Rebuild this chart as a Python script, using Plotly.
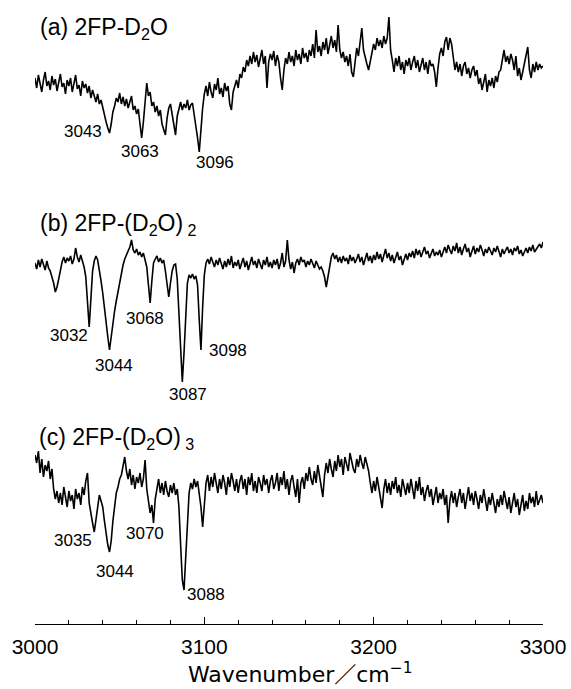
import plotly.graph_objects as go

# Wavenumber grid (cm^-1)
wavenumber = list(range(3000, 3301))

# (a) 2FP-D2O  (arbitrary intensity units)
spec_a = [
    22, 12, 25, 16, 8, 20, 28, 14, 19, 10,
    24, 15, 21, 9, 18, 26, 13, 17, 6, 20,
    14, 22, 8, 16, 25, 11, 15, 4, 19, 12,
    16, 7, 14, 2, 10, 4, -2, 6, -4, 0,
    -8, -16, -22, -28, -33, -24, -12, -6, 2, -2,
    7, -4, 3, -6, 1, -8, -2, 4, -10, -6,
    -14, -9, -24, -38, -22, -2, 17, 4, 8, -6,
    -2, -12, -6, -16, -10, -24, -30, -35, -18, -8,
    -4, -14, -26, -35, -16, -9, -2, -10, -4, -8,
    0, -10, -5, -3, -14, -24, -38, -52, -28, -8,
    6, 14, 4, 18, 8, 2, 16, 10, 22, 6,
    12, 3, 17, 9, 14, -4, -10, 8, 14, 20,
    12, 26, 22, 33, 28, 40, 34, 44, 36, 48,
    38, 45, 33, 42, 50, 36, 44, 12, 38, 46,
    40, 49, 34, 45, 38, 22, 10, 30, 42, 36,
    48, 38, 44, 34, 50, 40, 46, 36, 52, 42,
    47, 38, 50, 44, 56, 42, 70, 48, 54, 44,
    58, 50, 62, 46, 56, 64, 52, 60, 48, 75,
    50, 42, 48, 38, 44, 34, 46, 28, 23, 40,
    52, 44, 60, 72, 50, 42, 36, 30, 40, 48,
    56, 50, 62, 54, 60, 52, 64, 56, 62, 83,
    50, 40, 28, 42, 34, 44, 30, 38, 26, 40,
    34, 42, 30, 38, 44, 32, 40, 28, 36, 42,
    30, 38, 26, 40, 34, 36, 28, 13, 32, 46,
    52, 44, 58, 63, 50, 62, 56, 40, 30, 38,
    28, 36, 24, 34, 38, 26, 32, 22, 30, 34,
    24, 30, 16, 22, 10, 18, 26, 8, 20, 14,
    22, 12, 24, 18, 28, 30, 42, 50, 38, 44,
    36, 46, 40, 30, 44, 24, 32, 20, 28, 36,
    42, 53, 30, 22, 36, 28, 38, 30, 36, 32,
    34,
]

# (b) 2FP-(D2O)2
spec_b = [
    2, -4, 5, -2, 6, 0, -5, 4, -3, -6,
    -12, -18, -27, -22, -14, -4, 3, 8, 2, 7,
    4, 9, 1, 6, 17, 8, 3, 10, 5, -2,
    -12, -35, -62, -34, -6, 4, 9, 5, -4, -16,
    -28, -44, -62, -72, -85, -70, -56, -46, -36, -26,
    -16, -8, 0, 6, 10, 14, 18, 25, 15, 12,
    16, 10, 13, 8, 12, 5, -2, -20, -38, -16,
    2, 6, 9, 3, 7, 2, 5, -6, -20, -32,
    -18, -6, 0, 1, -14, -50, -90, -117, -88, -45,
    -18, -10, -13, -9, -14, -11, -20, -55, -85, -42,
    -10, 2, 6, 1, 8, 3, -2, 5, 0, 7,
    2, -4, 4, -2, 6, 0, 9, -3, 3, -1,
    5, -4, 2, 7, -2, 4, -5, 3, 8, 0,
    4, -3, 6, 1, -4, 5, 0, 8, -2, 3,
    -3, 5, 0, 6, -4, 2, 12, -2, 4, 25,
    5, -4, 3, -8, 2, 6, 0, 8, 3, 5,
    -2, 4, 0, 6, 2, -3, 4, 0, -4, -2,
    -6, -12, -22, -12, -2, 8, 12, 6, 10, 3,
    8, 2, 9, 4, 7, 1, 10, 4, 8, 2,
    6, 11, 3, 8, 0, 7, 12, 4, 9, 2,
    10, 5, 13, 6, 11, 3, 9, 16, 7, 12,
    4, 10, 2, 8, 13, 5, 9, 0, 7, 11,
    5, 12, 8, 14, 7, 16, 10, 15, 8, 13,
    18, 11, 14, 7, 12, 16, 9, 13, 10, 15,
    8, 14, 18, 12, 20, 15, 11, 19, 14, 22,
    12, 18, 10, 16, 21, 13, 17, 8, 14, 19,
    11, 17, 13, 20, 15, 9, 16, 12, 18, 14,
    10, 17, 13, 19, 12, 8, 16, 11, 15, 18,
    12, 16, 10, 17, 14, 19, 11, 15, 9, 14,
    17, 12, 18, 14, 20, 13, 16, 19, 21, 17,
    23,
]

# (c) 2FP-(D2O)3
spec_c = [
    30, 22, 34, 12, 26, 8, 20, 14, 24, 6,
    16, -4, -14, -6, -18, -8, -20, -2, -12, -22,
    -6, -16, -10, -24, -4, -14, -8, -20, -2, -10,
    4, 12, -18, -30, -38, -47, -34, -20, -10, -16,
    -22, -36, -50, -60, -67, -56, -36, -20, -8, -2,
    6, 10, 18, 28, 14, 6, 16, 0, 10, -4,
    8, 2, 12, -2, 6, 25, -4, -18, -28, -20,
    -38, -14, -4, 6, -8, 2, -10, 4, -6, -12,
    0, -8, 2, -10, -4, -22, -60, -95, -105, -70,
    -30, -8, 2, -4, 6, -2, 4, -8, -22, -42,
    -14, 2, 10, -6, 8, -2, 12, 0, -8, 6,
    -4, 10, 2, -10, 8, -2, 12, 4, -6, 6,
    -8, 4, 10, -4, 6, -10, 8, 0, 12, -6,
    4, -8, 8, 2, -6, 10, 0, 6, -8, 4,
    10, -4, 2, 12, -6, 8, 0, 14, -4, 6,
    -10, 4, 10, -2, -12, 6, -18, 2, 8, -4,
    12, 4, 18, 6, 0, 14, 2, 20, 8, -2,
    -12, 10, 22, 12, 26, 16, 8, 24, 14, 30,
    18, 26, 10, 28, 20, 14, 32, 22, 16, 12,
    26, 18, 30, 22, 16, 28, 20, 14, 2, -8,
    4, -6, 8, -2, -12, -23, -4, 6, -8, 2,
    -10, 4, -4, 8, -8, 0, -12, 6, -2, -10,
    2, -8, 6, -4, -14, 4, -6, 8, -10, -2,
    -16, -6, 0, -12, -4, -20, -10, -2, -18, -8,
    -14, -4, -20, -10, -38, -16, -6, -18, -8, -22,
    -12, -4, -18, -8, -24, -10, -2, -16, -8, -20,
    -6, -14, -24, -10, -18, -4, -16, -26, -12, -20,
    -8, -18, -28, -14, -22, -10, -20, -6, -16, -24,
    -12, -28, -18, -8, -22, -14, -30, -20, -10, -26,
    -16, -24, -8, -18, -12, -22, -6, -20, -14, -10,
    -18,
]

panel_titles = ["(a) 2FP-D<sub>2</sub>O",
                "(b) 2FP-(D<sub>2</sub>O)<sub> 2</sub>",
                "(c) 2FP-(D<sub>2</sub>O)<sub> 3</sub>"]

peak_labels_a = ["3043", "3063", "3096"]
peak_labels_b = ["3032", "3044", "3068", "3098", "3087"]
peak_labels_c = ["3035", "3044", "3070", "3088"]

tick_vals = [3000, 3100, 3200, 3300]
tick_text = ["3000", "3100", "3200", "3300"]

# ---- layout constants (vertical offsets of stacked spectra) ----
offsets = [524, 359, 139]
title_pos = [(3002, 596), (3002, 399.5), (3001, 186)]
label_pos_a = [(3028.4, 492.5), (3062.0, 473), (3106.3, 462)]
label_pos_b = [(3019.8, 289), (3046.4, 259), (3065.0, 306), (3114.0, 274), (3090.1, 230)]
label_pos_c = [(3022.7, 84), (3047.3, 53), (3065.0, 91), (3101.0, 30)]

fig = go.Figure()
for spec, off in zip([spec_a, spec_b, spec_c], offsets):
    fig.add_trace(go.Scatter(
        x=wavenumber, y=[v + off for v in spec], mode="lines",
        line=dict(color="black", width=1.6), showlegend=False, hoverinfo="skip"))

annos = []
for t, (x, y) in zip(panel_titles, title_pos):
    annos.append(dict(x=x, y=y, xref="x", yref="y", text=t, showarrow=False,
                      xanchor="left", yanchor="middle",
                      font=dict(family="Liberation Sans, Arial", size=23, color="black")))
for labels, pos in [(peak_labels_a, label_pos_a), (peak_labels_b, label_pos_b),
                    (peak_labels_c, label_pos_c)]:
    for t, (x, y) in zip(labels, pos):
        annos.append(dict(x=x, y=y, xref="x", yref="y", text=t, showarrow=False,
                          xanchor="center", yanchor="middle",
                          font=dict(family="Liberation Sans, Arial", size=17, color="black")))
annos.append(dict(x=0.522, y=-0.078, xref="paper", yref="paper",
                  text="Wavenumber／cm<sup>−1</sup>", showarrow=False,
                  xanchor="center", yanchor="middle",
                  font=dict(family="DejaVu Sans, Noto Sans CJK JP", size=22, color="black")))

fig.update_layout(
    width=571, height=689,
    margin=dict(l=35, r=28, t=0, b=65),
    paper_bgcolor="white", plot_bgcolor="white",
    annotations=annos,
    xaxis=dict(range=[3000, 3300], showgrid=False, zeroline=False,
               showline=True, linecolor="black", linewidth=1.3,
               ticks="inside", ticklen=7, tickwidth=1.3, tickcolor="black",
               tickvals=tick_vals, ticktext=tick_text,
               ticklabelstandoff=4,
               tickfont=dict(family="Liberation Sans, Arial", size=21, color="black"),
               minor=dict(dtick=20, tick0=3000, ticks="inside", ticklen=4,
                          tickwidth=1.3, tickcolor="black", showgrid=False)),
    yaxis=dict(range=[0, 624], visible=False, showgrid=False, zeroline=False),
)

fig.write_html("out.html")
